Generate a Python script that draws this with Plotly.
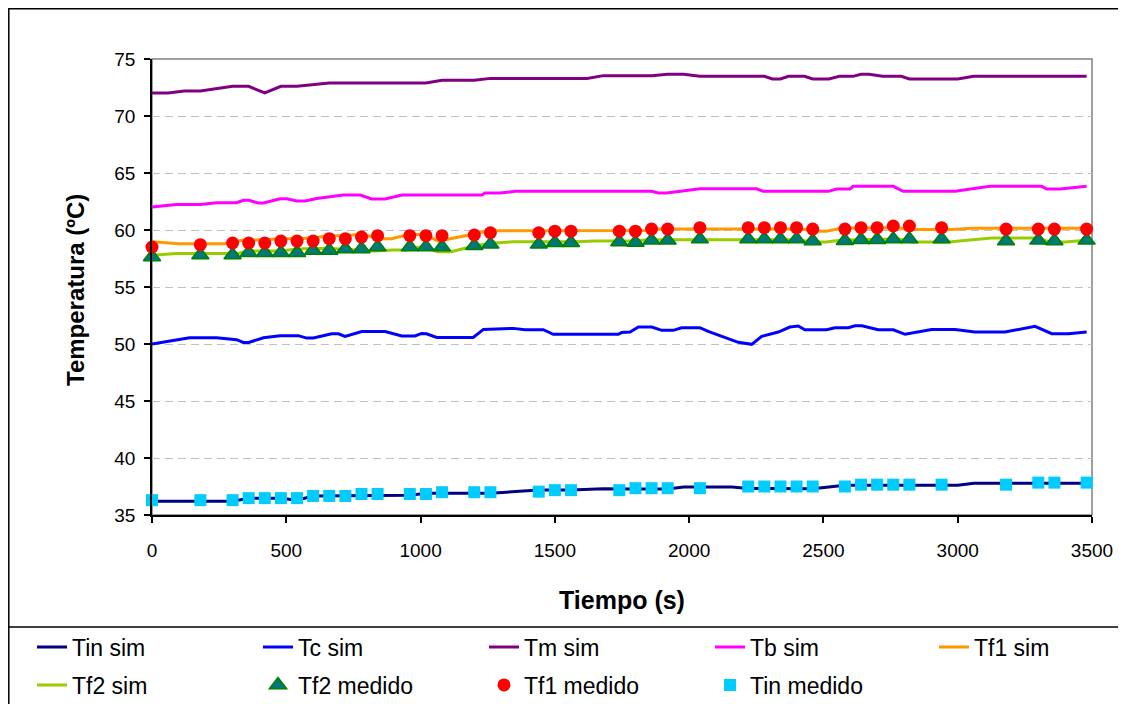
import plotly.graph_objects as go

# ---------------- data ----------------
# simulated curves (time s, temperature ºC) – line vertices
tin_sim_t = [0, 300, 360, 480, 540, 600, 960, 1020, 1260, 1440, 1560, 1680, 1800, 1920, 1980, 2160, 2220, 2460, 2520, 2580, 3000, 3060, 3480]
tin_sim_v = [36.2, 36.2, 36.46, 36.46, 36.3, 36.67, 36.73, 36.9, 36.9, 37.2, 37.2, 37.31, 37.28, 37.28, 37.45, 37.45, 37.33, 37.3, 37.45, 37.6, 37.6, 37.78, 37.78]

tc_sim_t = [0, 140, 240, 285, 315, 340, 360, 415, 477, 545, 576, 601, 669, 694, 719, 781, 868, 930, 979, 1004, 1022, 1060, 1196, 1234, 1345, 1389, 1457, 1494, 1736, 1749, 1780, 1811, 1861, 1898, 1941, 1972, 2040, 2071, 2121, 2183, 2233, 2270, 2332, 2375, 2406, 2431, 2512, 2543, 2593, 2618, 2643, 2704, 2760, 2804, 2903, 2990, 3064, 3176, 3288, 3350, 3412, 3480]
tc_sim_v = [50.0, 50.55, 50.55, 50.44, 50.38, 50.14, 50.14, 50.55, 50.73, 50.73, 50.52, 50.52, 50.9, 50.9, 50.67, 51.1, 51.1, 50.7, 50.7, 50.93, 50.9, 50.58, 50.58, 51.28, 51.37, 51.25, 51.25, 50.85, 50.85, 51.0, 51.05, 51.49, 51.49, 51.2, 51.2, 51.43, 51.43, 51.1, 50.7, 50.15, 49.97, 50.67, 51.05, 51.49, 51.58, 51.25, 51.25, 51.43, 51.43, 51.6, 51.6, 51.25, 51.25, 50.85, 51.28, 51.28, 51.05, 51.05, 51.55, 50.9, 50.9, 51.05]

tm_sim_t = [0, 60, 120, 180, 300, 360, 420, 480, 540, 660, 1020, 1080, 1200, 1260, 1620, 1680, 1860, 1920, 1980, 2040, 2280, 2310, 2340, 2370, 2430, 2460, 2520, 2560, 2610, 2640, 2670, 2720, 2790, 2820, 3000, 3060, 3480]
tm_sim_v = [72.02, 72.02, 72.2, 72.2, 72.6, 72.6, 72.02, 72.6, 72.6, 72.9, 72.9, 73.13, 73.13, 73.3, 73.3, 73.54, 73.54, 73.66, 73.66, 73.48, 73.48, 73.25, 73.25, 73.48, 73.48, 73.25, 73.25, 73.48, 73.48, 73.66, 73.66, 73.48, 73.48, 73.25, 73.25, 73.48, 73.48]

tb_sim_t = [0, 90, 180, 240, 315, 340, 360, 396, 415, 477, 502, 539, 570, 613, 712, 775, 818, 868, 930, 1228, 1240, 1296, 1352, 1860, 1885, 1916, 2040, 2251, 2276, 2518, 2549, 2599, 2611, 2760, 2797, 2990, 3120, 3313, 3331, 3381, 3480]
tb_sim_v = [62.01, 62.24, 62.24, 62.39, 62.39, 62.6, 62.6, 62.37, 62.37, 62.74, 62.74, 62.54, 62.54, 62.77, 63.07, 63.07, 62.72, 62.72, 63.07, 63.07, 63.24, 63.24, 63.39, 63.39, 63.24, 63.24, 63.62, 63.62, 63.39, 63.39, 63.6, 63.6, 63.83, 63.83, 63.39, 63.39, 63.83, 63.83, 63.6, 63.6, 63.83]

tf1_sim_t = [0, 100, 270, 335, 470, 600, 657, 719, 781, 843, 893, 955, 1016, 1066, 1190, 1252, 1850, 1885, 2419, 2469, 2510, 2568, 2779, 2816, 2978, 3052, 3480]
tf1_sim_v = [58.98, 58.8, 58.8, 59.09, 59.2, 59.3, 59.5, 59.5, 59.65, 59.24, 59.24, 59.6, 59.6, 59.03, 59.6, 59.93, 59.95, 60.08, 60.08, 59.9, 59.9, 60.15, 60.2, 60.05, 60.05, 60.15, 60.15]

tf2_sim_t = [0, 90, 320, 350, 480, 540, 650, 830, 900, 950, 1013, 1063, 1113, 1200, 1263, 1350, 1570, 1650, 1800, 1850, 2400, 2460, 2510, 2570, 2780, 2830, 2966, 3126, 3300, 3340, 3400, 3480]
tf2_sim_v = [57.78, 57.93, 57.93, 58.16, 58.16, 58.33, 58.4, 58.16, 58.25, 58.25, 58.6, 58.1, 58.1, 58.6, 58.83, 58.98, 58.98, 59.03, 59.05, 59.15, 59.15, 58.95, 58.95, 59.12, 59.2, 58.95, 58.95, 59.3, 59.3, 58.95, 58.95, 59.09]

# measured points
t_med = [0, 180, 300, 360, 420, 480, 540, 600, 660, 720, 780, 840, 960, 1020, 1080, 1200, 1260, 1440, 1500, 1560,
         1740, 1800, 1860, 1920, 2040, 2220, 2280, 2340, 2400, 2460, 2580, 2640, 2700, 2760, 2820, 2940, 3180, 3300, 3360, 3480]
tf2_med = [57.63, 57.8, 57.8, 58.0, 58.0, 58.0, 58.0, 58.2, 58.2, 58.33, 58.33, 58.5, 58.5, 58.5, 58.5, 58.62, 58.74, 58.74, 58.88, 58.88,
           58.95, 58.9, 59.09, 59.09, 59.2, 59.2, 59.2, 59.2, 59.2, 59.03, 59.05, 59.15, 59.15, 59.2, 59.2, 59.2, 59.03, 59.09, 59.03, 59.09]
tf1_med = [58.5, 58.71, 58.86, 58.86, 58.86, 59.03, 59.03, 59.03, 59.24, 59.24, 59.38, 59.5, 59.5, 59.5, 59.5, 59.56, 59.76, 59.76, 59.9, 59.9,
           59.9, 59.9, 60.08, 60.08, 60.2, 60.2, 60.2, 60.2, 60.2, 60.08, 60.08, 60.2, 60.2, 60.35, 60.35, 60.2, 60.08, 60.08, 60.08, 60.08]
tin_med = [36.3, 36.3, 36.3, 36.48, 36.48, 36.48, 36.48, 36.67, 36.67, 36.67, 36.84, 36.84, 36.84, 36.84, 37.0, 37.0, 37.0, 37.05, 37.18, 37.18,
           37.18, 37.35, 37.35, 37.35, 37.35, 37.5, 37.5, 37.5, 37.5, 37.5, 37.5, 37.66, 37.66, 37.66, 37.66, 37.66, 37.66, 37.84, 37.84, 37.84]

x_ticks = [0, 500, 1000, 1500, 2000, 2500, 3000, 3500]
y_ticks = [35, 40, 45, 50, 55, 60, 65, 70, 75]

# ---------------- figure ----------------
FONT = "Liberation Sans, Arial, sans-serif"
W, H = 1126, 704
OFF = 8                      # page body margin
PL, PR, PT, PB = 152, 1092, 59, 515   # plot area in window pixels
L, T = PL - OFF, PT - OFF
PW, PH = PR - PL, PB - PT
R, B = W - L - PW, H - T - PH


def px2x(px):
    return (px - PL) / PW


def py2y(py):
    return (PB - py) / PH


fig = go.Figure()

lines = [
    ("Tin sim", tin_sim_t, tin_sim_v, "#000080"),
    ("Tc sim", tc_sim_t, tc_sim_v, "#0000FF"),
    ("Tm sim", tm_sim_t, tm_sim_v, "#800080"),
    ("Tb sim", tb_sim_t, tb_sim_v, "#FF00FF"),
    ("Tf1 sim", tf1_sim_t, tf1_sim_v, "#FF9900"),
    ("Tf2 sim", tf2_sim_t, tf2_sim_v, "#99CC00"),
]
legend_ids = ["legend", "legend2", "legend3", "legend4", "legend5", "legend6", "legend7", "legend8", "legend9"]

for i, (name, t, v, c) in enumerate(lines):
    fig.add_trace(go.Scatter(x=t, y=v, mode="lines", name=name,
                             line=dict(color=c, width=3), legend=legend_ids[i]))

fig.add_trace(go.Scatter(x=t_med, y=tf2_med, mode="markers", name="Tf2 medido", cliponaxis=False,
                         marker=dict(symbol="triangle-up", size=15, color="#007878",
                                     line=dict(color="#008000", width=1.5)), legend=legend_ids[6]))
fig.add_trace(go.Scatter(x=t_med, y=tf1_med, mode="markers", name="Tf1 medido", cliponaxis=False,
                         marker=dict(symbol="circle", size=13, color="#FF0000"), legend=legend_ids[7]))
fig.add_trace(go.Scatter(x=t_med, y=tin_med, mode="markers", name="Tin medido", cliponaxis=False,
                         marker=dict(symbol="square", size=12, color="#00CCFF"), legend=legend_ids[8]))

# legend placement: one single-item legend per cell of the 5x2 grid
row_y = [py2y(647), py2y(685)]
col_left = [32, 258, 484, 710, 934]
cells = [(0, 0), (0, 1), (0, 2), (0, 3), (0, 4), (1, 0), (1, 1), (1, 2), (1, 3)]
legend_layout = {}
for lid, (r, c) in zip(legend_ids, cells):
    legend_layout[lid] = dict(
        x=px2x(col_left[c]), y=row_y[r], xanchor="left", yanchor="middle",
        orientation="h", bgcolor="rgba(0,0,0,0)", borderwidth=0,
        font=dict(family=FONT, size=23, color="black"), itemwidth=30,
    )

fig.update_layout(
    width=W, height=H,
    margin=dict(l=L, r=R, t=T, b=B, autoexpand=False),
    paper_bgcolor="white", plot_bgcolor="white",
    showlegend=True,
    font=dict(family=FONT, color="black"),
    xaxis=dict(range=[0, 3500], tickvals=x_ticks, ticktext=[str(v) for v in x_ticks],
               showline=True, linecolor="black", linewidth=1.5, mirror=False,
               ticks="outside", ticklen=6, tickcolor="black", tickwidth=1.5,
               showgrid=False, zeroline=False, ticklabelstandoff=11,
               tickfont=dict(family=FONT, size=19, color="black")),
    yaxis=dict(range=[35, 75], tickvals=y_ticks, ticktext=[str(v) for v in y_ticks],
               showline=True, linecolor="black", linewidth=1.5, mirror=False,
               ticks="outside", ticklen=6, tickcolor="black", tickwidth=1.5,
               showgrid=True, gridcolor="#C0C0C0", gridwidth=1, griddash="8px,5px",
               zeroline=False, ticklabelstandoff=5,
               tickfont=dict(family=FONT, size=19, color="black")),
    annotations=[
        dict(text="<b>Temperatura (ºC)</b>", xref="paper", yref="paper", x=px2x(75), y=py2y(290),
             xanchor="center", yanchor="middle", textangle=-90, showarrow=False,
             font=dict(family=FONT, size=24, color="black")),
        dict(text="<b>Tiempo (s)</b>", xref="paper", yref="paper", x=0.5, y=py2y(600),
             xanchor="center", yanchor="middle", showarrow=False,
             font=dict(family=FONT, size=25, color="black")),
    ],
    shapes=[
        # plot-area frame (grey)
        dict(type="rect", xref="paper", yref="paper", x0=0, x1=1, y0=0, y1=1,
             line=dict(color="#808080", width=1.5), layer="below"),
        # chart outer border
        dict(type="rect", xref="paper", yref="paper", x0=px2x(8.8), x1=px2x(1150), y0=py2y(730), y1=py2y(8.8),
             line=dict(color="black", width=1.5)),
        # legend box top edge
        dict(type="line", xref="paper", yref="paper", x0=px2x(8.8), x1=px2x(1150), y0=py2y(627), y1=py2y(627),
             line=dict(color="black", width=1.5)),
    ],
    **legend_layout,
)

fig.write_html("out.html")
